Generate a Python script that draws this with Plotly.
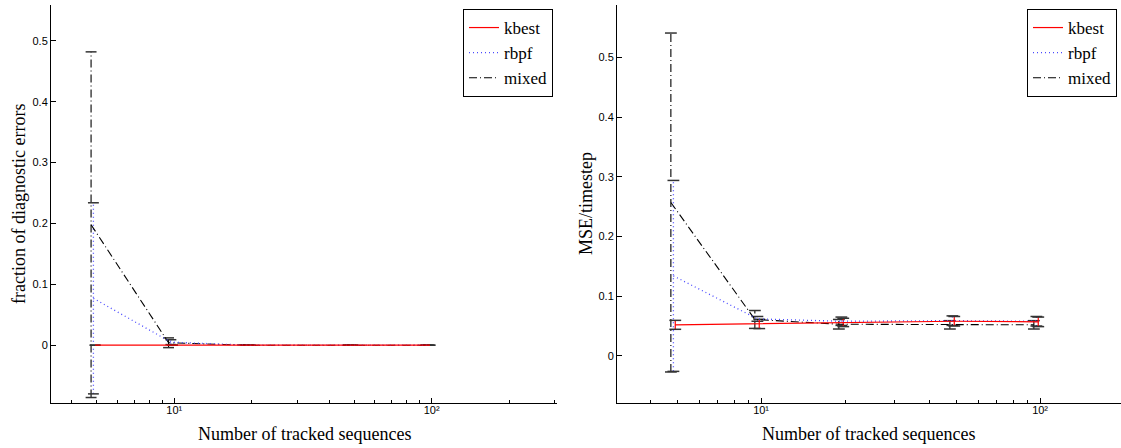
import plotly.graph_objects as go

# ---------------- data ----------------
n_seq = [5, 10, 20, 50, 100]
series = ["kbest", "rbpf", "mixed"]

# left panel: fraction of diagnostic errors
diag_mean = {
    "kbest": [0.0, 0.0, 0.0, 0.0, 0.0],
    "rbpf":  [0.077, 0.005, 0.0, 0.0, 0.0],
    "mixed": [0.198, 0.004, 0.0, 0.0, 0.0],
}
diag_err = {
    "kbest": [0.0, 0.0, 0.0, 0.0, 0.0],
    "rbpf":  [0.157, 0.004, 0.0, 0.0, 0.0],
    "mixed": [0.284, 0.008, 0.0, 0.0, 0.0],
}

# right panel: MSE / timestep
mse_mean = {
    "kbest": [0.052, 0.0535, 0.056, 0.058, 0.057],
    "rbpf":  [0.134, 0.062, 0.058, 0.059, 0.058],
    "mixed": [0.257, 0.061, 0.053, 0.052, 0.052],
}
mse_err = {
    "kbest": [0.0075, 0.0078, 0.007, 0.008, 0.008],
    "rbpf":  [0.160, 0.004, 0.007, 0.008, 0.008],
    "mixed": [0.284, 0.015, 0.008, 0.007, 0.007],
}

y_ticks = [0, 0.1, 0.2, 0.3, 0.4, 0.5]
y_tick_text = ["0", "0.1", "0.2", "0.3", "0.4", "0.5"]
x_major = [10, 100]
x_major_text = ["10\u00b9", "10\u00b2"]
x_minor = [3, 4, 5, 6, 7, 8, 9, 20, 30, 40, 50, 60, 70, 80, 90, 200, 300]

# ---------------- styles ----------------
style = {
    "kbest": dict(color="#ff0000", dash="solid", width=1.2),
    "rbpf":  dict(color="#4a4aff", dash="1px,3px", width=1.3),
    "mixed": dict(color="#000000", dash="8px,3px,1px,3px", width=1.1),
}
jitter = {"kbest": 0.985, "rbpf": 0.97, "mixed": 0.95}
cap_f = 1.05
serif = "Liberation Serif, Times New Roman, serif"
sans = "Liberation Sans, Arial, sans-serif"

fig = go.Figure()


def add_panel(means, errs, xa, ya, legend):
    # error bars
    for s in ["mixed", "rbpf", "kbest"]:
        xs = [v * jitter[s] for v in n_seq]
        vx, vy, cx, cy = [], [], [], []
        for x, m, e in zip(xs, means[s], errs[s]):
            vx += [x, x, None]
            vy += [m - e, m + e, None]
            for yy in (m - e, m + e):
                cx += [x / cap_f, x * cap_f, None]
                cy += [yy, yy, None]
        fig.add_trace(go.Scatter(x=vx, y=vy, mode="lines", xaxis=xa, yaxis=ya,
                                 line=style[s], showlegend=False, hoverinfo="skip"))
        fig.add_trace(go.Scatter(x=cx, y=cy, mode="lines", xaxis=xa, yaxis=ya,
                                 line=dict(color="#333333", width=1.5),
                                 showlegend=False, hoverinfo="skip"))
    # main lines
    for rank, s in [(3, "mixed"), (2, "rbpf"), (1, "kbest")]:
        xs = [v * jitter[s] for v in n_seq]
        fig.add_trace(go.Scatter(x=xs, y=means[s], mode="lines", name=s,
                                 xaxis=xa, yaxis=ya, line=style[s],
                                 legend=legend, legendrank=rank))


add_panel(diag_mean, diag_err, "x", "y", "legend")
add_panel(mse_mean, mse_err, "x2", "y2", "legend2")

W, H = 1121, 448


def px(x):
    return x / W


def py(y):
    return 1 - y / H


common_x = dict(type="log", ticks="inside", ticklen=5, tickcolor="black",
                showline=True, linecolor="black", linewidth=1, showgrid=False,
                zeroline=False, tickvals=x_major, ticktext=x_major_text,
                ticklabelstandoff=-3,
                tickfont=dict(family=sans, size=11, color="black"),
                minor=dict(tickvals=x_minor, ticks="inside", ticklen=3,
                           tickcolor="black", showgrid=False))
common_y = dict(ticks="inside", ticklen=5, tickcolor="black", showline=True,
                linecolor="black", linewidth=1, showgrid=False, zeroline=False,
                tickvals=y_ticks, ticktext=y_tick_text,
                tickfont=dict(family=sans, size=11, color="black"))

legend_style = dict(bordercolor="black", borderwidth=1, bgcolor="white",
                    font=dict(family=serif, size=17, color="black"),
                    xanchor="right", yanchor="top", tracegroupgap=0,
                    itemwidth=30, entrywidth=60)

title_font = dict(family=serif, size=18, color="black")

fig.update_layout(
    width=W, height=H,
    margin=dict(l=0, r=0, t=0, b=0),
    paper_bgcolor="white", plot_bgcolor="white",
    xaxis=dict(domain=[px(51), px(557)], range=[0.521, 2.487], anchor="y", **common_x),
    yaxis=dict(domain=[py(403), py(5)], range=[-0.095, 0.559], anchor="x", **common_y),
    xaxis2=dict(domain=[px(617), 1.0], range=[0.4836, 2.29], anchor="y2", **common_x),
    yaxis2=dict(domain=[py(403), py(5)], range=[-0.079, 0.588], anchor="x2", **common_y),
    legend=dict(x=px(553), y=py(9), **legend_style),
    legend2=dict(x=px(1117), y=py(9), **legend_style),
    showlegend=True,
    annotations=[
        dict(text="Number of tracked sequences", xref="paper", yref="paper",
             x=px(304), y=py(434), xanchor="center", yanchor="middle",
             showarrow=False, font=title_font),
        dict(text="Number of tracked sequences", xref="paper", yref="paper",
             x=px(868), y=py(434), xanchor="center", yanchor="middle",
             showarrow=False, font=title_font),
        dict(text="fraction of diagnostic errors", xref="paper", yref="paper",
             x=px(19), y=py(204), xanchor="center", yanchor="middle",
             showarrow=False, textangle=-90, font=title_font),
        dict(text="MSE/timestep", xref="paper", yref="paper",
             x=px(586), y=py(204), xanchor="center", yanchor="middle",
             showarrow=False, textangle=-90, font=title_font),
    ],
)

fig.write_html(
    "out.html",
    config={"displayModeBar": False},
    post_script="document.body.style.margin='0px';document.body.style.overflow='hidden';",
)
